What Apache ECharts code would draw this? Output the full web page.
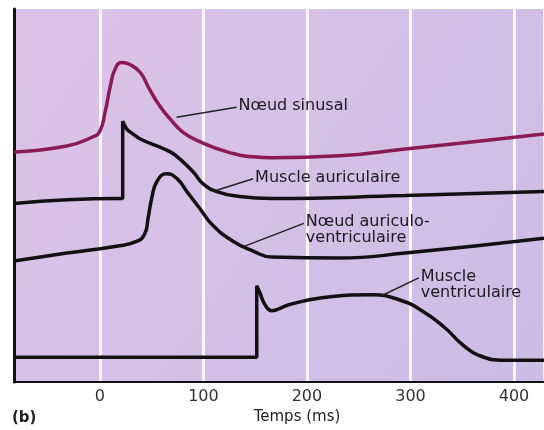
<!DOCTYPE html>
<html>
<head>
<meta charset="utf-8">
<title>Potentiels d'action cardiaques</title>
<script src="https://cdn.jsdelivr.net/npm/echarts@6/dist/echarts.min.js"></script>
<style>
  html, body { margin: 0; padding: 0; background: #fff; }
  #chart { width: 544px; height: 430px; }
</style>
</head>
<body>
<div id="chart"></div>
<script>
// temps (ms) et potentiel (unites arbitraires, decalees pour chaque courbe)
var noeudSinusal = [
  [-83, 232], [-32, 238], [-7, 247], [0, 253], [5, 272], [10, 298], [14.5, 315],
  [21, 322], [29, 320], [39, 312], [48, 295], [58, 278], [68, 265], [80, 252],
  [97, 242], [123, 232], [148, 227], [166, 226], [231, 228], [295, 235], [359, 242], [429, 250]
]
var muscleAuriculaire = [
  [-83, 180], [20, 185], [22, 185], [22, 263], [26, 255], [32, 250], [39, 245], [55, 238],
  [68, 232], [77, 225], [90, 212], [99.5, 200], [113, 192], [135, 187], [166, 185],
  [295, 188], [429, 192]
]
var noeudAV = [
  [-83, 122], [-32, 130], [16, 137], [36, 142], [43.5, 150], [46.5, 165], [50, 185],
  [55, 202], [64.5, 210], [74.5, 205], [84, 192], [96.5, 175], [109, 158], [128.5, 142],
  [148, 132], [166, 126], [231, 125], [295, 130], [429, 145]
]
var muscleVentriculaire = [
  [-83, 25], [149, 25], [151.5, 25], [151.5, 97], [154.5, 90], [159.5, 78], [166, 72], [182.5, 78],
  [214.5, 85], [263, 88], [289, 83], [311, 72], [333, 55], [350, 38], [366, 27],
  [391, 22], [429, 22]
]

// legendes : point sur la courbe, bout du trait, texte
var labelTexts = ['Nœud sinusal', 'Muscle auriculaire', 'Nœud auriculo-\nventriculaire', 'Muscle\nventriculaire']
var leaderFrom = [[74, 267], [109, 192], [140, 137], [272, 87]]
var leaderTo = [[132, 277], [148, 205], [197, 160], [308, 105]]

var chart = echarts.init(document.getElementById('chart'))

var curveStyle = { width: 3.5, color: '#111' }
var leaderSeries = leaderFrom.map(function (p, i) {
  return {
    type: 'line',
    data: [p, leaderTo[i]],
    symbol: 'none',
    silent: true,
    lineStyle: { width: 1.5, color: '#222' }
  }
})

function curve (name, data, color) {
  return {
    name: name,
    type: 'line',
    data: data,
    symbol: 'none',
    smooth: 0.5,
    lineStyle: color ? { width: 3.5, color: color } : curveStyle
  }
}

var option = {
  animation: false,
  grid: {
    left: 14, right: 0, top: 9, bottom: 45,
    show: true,
    borderWidth: 0,
    backgroundColor: new echarts.graphic.LinearGradient(0, 0, 1, 1, [
      { offset: 0, color: '#dcc2e8' },
      { offset: 0.5, color: '#d5c0e7' },
      { offset: 1, color: '#cbbde6' }
    ])
  },
  xAxis: {
    type: 'value',
    min: -83,
    max: 429,
    splitNumber: 5,
    name: 'Temps (ms)',
    nameLocation: 'middle',
    nameGap: 27,
    nameTextStyle: { fontFamily: 'DejaVu Sans', fontSize: 15, color: '#222', padding: [0, 0, 0, 36] },
    axisLine: { show: true, onZero: false, lineStyle: { color: '#111', width: 2 } },
    axisTick: { show: false },
    axisLabel: {
      showMinLabel: false,
      showMaxLabel: false,
      margin: 7,
      fontFamily: 'DejaVu Sans',
      fontSize: 16,
      color: '#333'
    },
    splitLine: { show: true, lineStyle: { color: 'rgba(255,255,255,0.85)', width: 3 } }
  },
  yAxis: {
    type: 'value',
    min: 0,
    max: 376,
    axisLine: { show: true, onZero: false, lineStyle: { color: '#111', width: 3 } },
    axisTick: { show: false },
    axisLabel: { show: false },
    splitLine: { show: false }
  },
  series: [
    curve('Nœud sinusal', noeudSinusal, '#8a1b55'),
    curve('Muscle auriculaire', muscleAuriculaire),
    curve('Nœud auriculo-ventriculaire', noeudAV),
    curve('Muscle ventriculaire', muscleVentriculaire)
  ].concat(leaderSeries)
}
chart.setOption(option)

// textes des legendes places au bout des traits
var texts = labelTexts.map(function (t, i) {
  var pt = chart.convertToPixel({ gridIndex: 0 }, leaderTo[i])
  return {
    type: 'text',
    x: pt[0] + 2,
    y: pt[1] - 9,
    style: { text: t, font: '16px "DejaVu Sans"', fill: '#1a1a1a', lineHeight: 16 }
  }
})
texts.push({
  type: 'text',
  left: 12,
  top: 411,
  style: { text: '(b)', font: 'bold 15px "DejaVu Sans"', fill: '#222' }
})
chart.setOption({ graphic: texts })
</script>
</body>
</html>
